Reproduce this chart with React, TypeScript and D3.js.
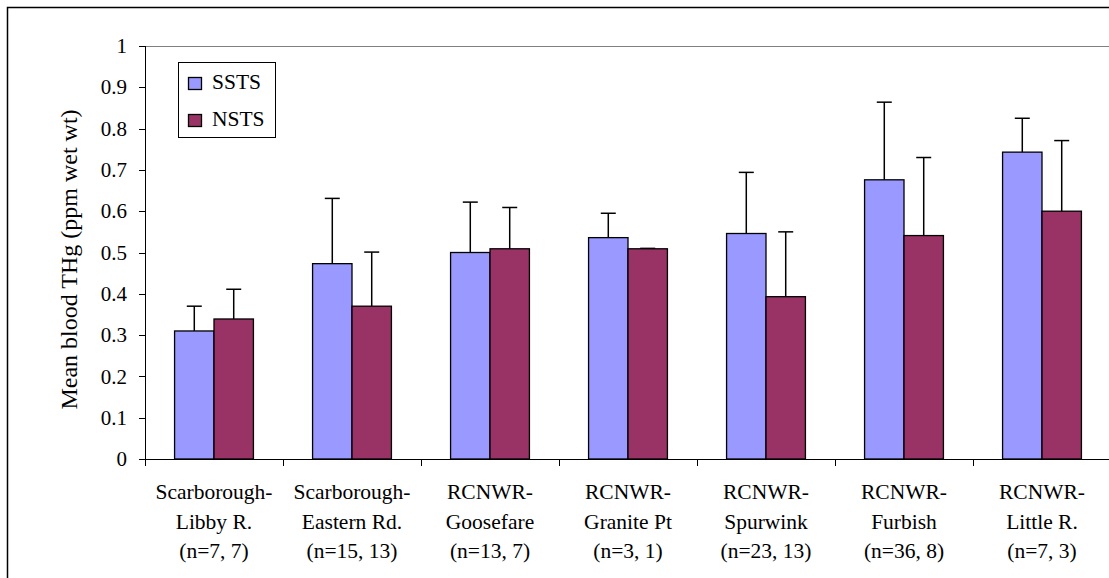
import React from "react";
import * as d3 from "d3";

const categories = [
  ["Scarborough-", "Libby R.", "(n=7, 7)"],
  ["Scarborough-", "Eastern Rd.", "(n=15, 13)"],
  ["RCNWR-", "Goosefare", "(n=13, 7)"],
  ["RCNWR-", "Granite Pt", "(n=3, 1)"],
  ["RCNWR-", "Spurwink", "(n=23, 13)"],
  ["RCNWR-", "Furbish", "(n=36, 8)"],
  ["RCNWR-", "Little R.", "(n=7, 3)"],
];
const sstsMean = [0.31, 0.473, 0.5, 0.536, 0.546, 0.676, 0.743];
const sstsErr = [0.06, 0.158, 0.122, 0.059, 0.148, 0.188, 0.082];
const nstsMean = [0.339, 0.37, 0.509, 0.509, 0.393, 0.541, 0.6];
const nstsErr = [0.072, 0.131, 0.1, 0.001, 0.157, 0.189, 0.171];
const yTicks = [0, 0.1, 0.2, 0.3, 0.4, 0.5, 0.6, 0.7, 0.8, 0.9, 1];
const seriesNames = ["SSTS", "NSTS"];
const colors = ["#9999FF", "#993366"];

const FF = "Liberation Serif";

export default function App() {
  const W = 1109, H = 578;
  const left = 145, right = 1111, top = 46, bottom = 459;
  const x = d3.scaleBand<number>().domain(d3.range(categories.length)).range([left, right]);
  const y = d3.scaleLinear().domain([0, 1]).range([bottom, top]);
  const bw = x.bandwidth();
  const barW = bw / 3.5;
  const series = [
    { mean: sstsMean, err: sstsErr },
    { mean: nstsMean, err: nstsErr },
  ];
  return (
    <svg width={W} height={H} style={{ position: "absolute", left: 0, top: 0 }}>
      <rect x={0} y={0} width={W} height={H} fill="#fff" />
      <rect x={7.5} y={7.5} width={W + 10} height={H + 10} fill="none" stroke="#000" strokeWidth={1.5} />
      <line x1={left} x2={W} y1={top + 0.5} y2={top + 0.5} stroke="#808080" strokeWidth={1} />
      {series.map((s, si) =>
        s.mean.map((v, i) => {
          const bx = (x(i) as number) + bw / 2 - barW + si * barW;
          const cx = bx + barW / 2;
          return (
            <g key={`${si}-${i}`}>
              <line x1={cx} x2={cx} y1={y(v)} y2={y(v + s.err[i])} stroke="#000" strokeWidth={1.5} />
              <line x1={cx - 7.5} x2={cx + 7.5} y1={y(v + s.err[i])} y2={y(v + s.err[i])} stroke="#000" strokeWidth={1.5} />
              <rect x={bx} y={y(v)} width={barW} height={bottom - y(v)} fill={colors[si]} stroke="#000" strokeWidth={1.3} />
            </g>
          );
        })
      )}
      <line x1={left + 0.5} x2={left + 0.5} y1={top} y2={bottom} stroke="#000" strokeWidth={1} />
      <line x1={left} x2={W} y1={bottom + 0.5} y2={bottom + 0.5} stroke="#000" strokeWidth={1} />
      {yTicks.map((t) => (
        <g key={t}>
          <line x1={left - 6} x2={left} y1={Math.round(y(t)) + 0.5} y2={Math.round(y(t)) + 0.5} stroke="#000" />
          <text x={127} y={y(t)} dy="0.34em" textAnchor="end" style={{ fontFamily: FF, fontSize: "21px" }}>
            {String(t)}
          </text>
        </g>
      ))}
      {d3.range(categories.length + 1).map((i) => {
        const tx = left + i * bw;
        return <line key={i} x1={Math.round(tx) + 0.5} x2={Math.round(tx) + 0.5} y1={bottom} y2={bottom + 7} stroke="#000" />;
      })}
      {categories.map((lines, i) => (
        <text key={i} textAnchor="middle" style={{ fontFamily: FF, fontSize: "21.5px" }}>
          {lines.map((l, j) => (
            <tspan key={j} x={(x(i) as number) + bw / 2} y={499 + j * 29.5}>
              {l}
            </tspan>
          ))}
        </text>
      ))}
      <text transform={`translate(77,259.5) rotate(-90)`} textAnchor="middle" style={{ fontFamily: FF, fontSize: "24px" }}>
        Mean blood THg (ppm wet wt)
      </text>
      <rect x={178.5} y={62.5} width={97} height={75} fill="#fff" stroke="#000" strokeWidth={1} />
      {seriesNames.map((n, i) => (
        <g key={n}>
          <rect x={188.5} y={77.5 + i * 37} width={13} height={12} fill={colors[i]} stroke="#000" strokeWidth={1.3} />
          <text x={212} y={89.3 + i * 37} style={{ fontFamily: FF, fontSize: "21.5px" }}>
            {n}
          </text>
        </g>
      ))}
    </svg>
  );
}
